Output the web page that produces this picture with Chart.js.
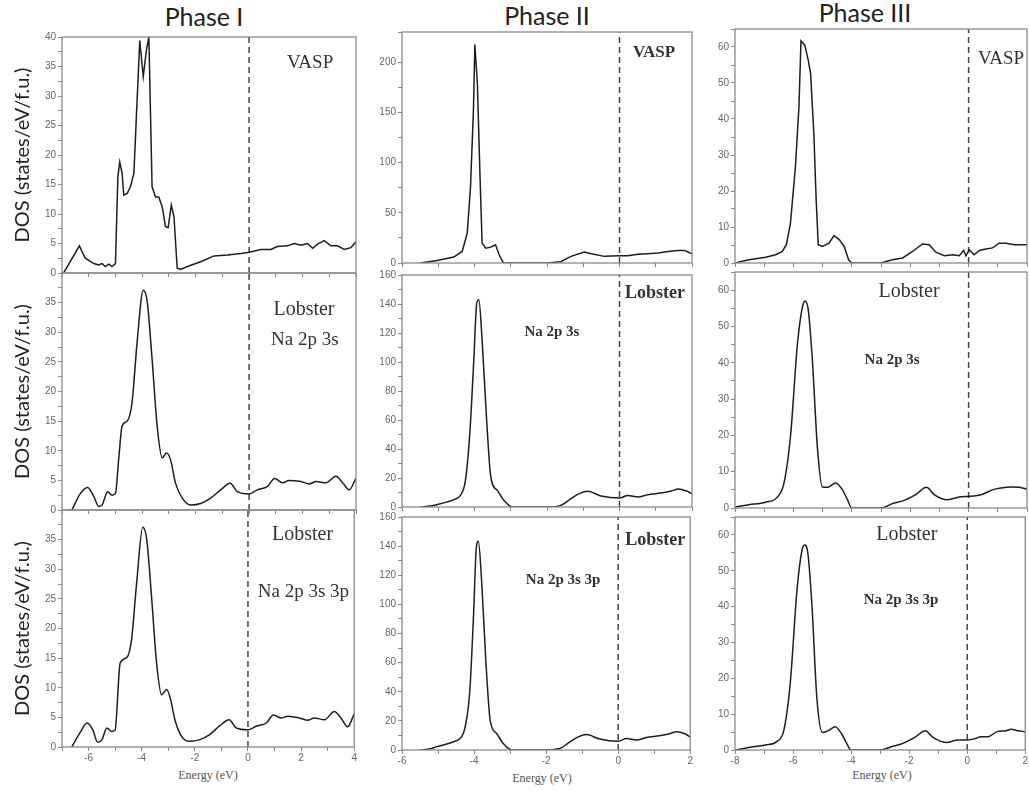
<!DOCTYPE html>
<html>
<head>
<meta charset="utf-8">
<script src="https://cdn.jsdelivr.net/npm/chart.js@4.4.0/dist/chart.umd.min.js"></script>
<style>
body { margin:0; background:#fff; width:1029px; height:792px; position:relative; overflow:hidden; }
canvas { position:absolute; }
.lbl { position:absolute; white-space:nowrap; color:#222; transform:translate(-50%,-50%); }
.title { font-family:Lato, sans-serif; font-size:25px; }
.xlab { font-family:"Liberation Serif", serif; font-size:12px; color:#555; }
</style>
</head>
<body>
<div class="lbl title" style="left:204px;top:16px">Phase I</div>
<div class="lbl title" style="left:547px;top:15px">Phase II</div>
<div class="lbl title" style="left:865px;top:12px">Phase III</div>
<div class="lbl xlab" style="left:208px;top:775px">Energy (eV)</div>
<div class="lbl xlab" style="left:542px;top:778px">Energy (eV)</div>
<div class="lbl xlab" style="left:882px;top:775px">Energy (eV)</div>
<script>
// Phase I
var p1VaspE = [-6.94,-6.35,-6.13,-5.81,-5.63,-5.5,-5.38,-5.25,-5.13,-5.0,-4.91,-4.84,-4.75,-4.69,-4.56,-4.44,-4.31,-4.19,-4.09,-3.96,-3.84,-3.75,-3.63,-3.5,-3.38,-3.25,-3.13,-3.03,-2.91,-2.81,-2.69,-2.56,-2.31,-1.81,-1.31,-0.81,-0.31,0,0.44,0.81,1.06,1.44,1.69,1.94,2.19,2.38,2.56,2.81,3.06,3.31,3.56,3.81,4.0];
var p1VaspDos = [0,4.6,2.5,1.6,1.35,1.6,1.1,1.5,1.1,1.6,16.3,18.8,16.9,13.2,13.5,14.6,16.9,29.3,39.4,33.3,37.8,40,14.6,12.9,12.9,11.2,7.9,7.7,11.5,9.5,0.8,0.6,1.1,1.9,2.9,3.05,3.3,3.5,4.0,4.0,4.5,4.6,5.0,4.7,5.0,4.2,4.9,5.5,4.6,4.6,4.0,4.3,5.3];
var p1LobE = [-6.63,-6.31,-6.04,-5.81,-5.63,-5.5,-5.29,-5.13,-5.0,-4.88,-4.75,-4.56,-4.38,-4.19,-3.96,-3.81,-3.63,-3.44,-3.25,-3.09,-2.94,-2.75,-2.5,-2.19,-1.81,-1.44,-1.06,-0.71,-0.44,0,0.31,0.69,0.96,1.25,1.5,1.94,2.25,2.5,2.88,3.25,3.5,3.75,4.0];
var p1LobDos = [0,2.8,3.8,2.3,0.6,0.85,3.1,2.5,2.8,8.5,14.2,15.0,18.1,28.3,37.1,35.1,25.5,14.2,8.8,9.6,8.5,4.5,2.0,0.85,1.1,2.0,3.4,4.5,3.1,2.7,3.4,4.0,5.3,4.6,5.0,4.8,4.4,4.8,4.6,5.7,4.6,3.4,5.4];
var p1Lob3pE = [-6.63,-6.31,-6.06,-5.84,-5.66,-5.5,-5.31,-5.13,-5.0,-4.81,-4.56,-4.38,-4.19,-3.96,-3.81,-3.63,-3.44,-3.25,-3.06,-2.91,-2.75,-2.5,-2.19,-1.81,-1.44,-1.06,-0.71,-0.44,0,0.31,0.69,0.96,1.25,1.5,1.94,2.25,2.5,2.88,3.25,3.5,3.75,4.0];
var p1Lob3pDos = [0,2.5,4.05,2.9,0.8,1.2,3.2,2.6,2.9,14.2,15.1,18.2,27.7,37.1,35,25.4,14.2,8.8,9.7,8.0,4.6,1.8,0.95,1.25,2.1,3.6,4.6,3.2,2.9,3.5,4.05,5.4,4.9,5.2,4.9,4.5,4.9,4.6,6.0,4.9,3.4,5.6];

// Phase II
var p2VaspE = [-5.49,-5.03,-4.57,-4.34,-4.2,-4.11,-4.03,-3.99,-3.92,-3.85,-3.79,-3.69,-3.55,-3.42,-3.32,-3.2,-1.99,-1.62,-1.34,-0.97,-0.78,-0.42,0,0.23,0.51,0.78,1.06,1.34,1.62,1.8,2.0];
var p2VaspDos = [0,2.6,5.9,11.5,29.7,75.8,151,217.5,178,89,19.8,14.8,15.8,18.1,8.2,0,0,1.3,6.6,10.9,9.2,6.6,7.2,7.2,8.6,9.2,9.9,11.5,12.5,12.5,9.2];
var p2LobE = [-5.49,-5.22,-4.94,-4.57,-4.39,-4.25,-4.13,-4.02,-3.94,-3.88,-3.79,-3.67,-3.55,-3.37,-3.19,-2.95,-1.99,-1.62,-1.34,-1.11,-0.88,-0.51,0,0.23,0.51,0.78,1.15,1.43,1.62,1.85,2.0];
var p2LobDos = [0,0.7,2.3,5.1,8.0,18.4,50.6,101,140,143,115,62,20.7,11.5,4.6,0,0,1.1,5.7,9.2,10.8,7.6,6.2,8.0,6.9,8.5,9.7,11.0,12.4,11.0,9.2];
var p2Lob3pE = [-5.49,-5.2,-5.03,-4.57,-4.35,-4.25,-4.12,-4.01,-3.94,-3.88,-3.79,-3.67,-3.55,-3.37,-3.19,-2.95,-1.99,-1.62,-1.34,-1.11,-0.88,-0.51,0,0.23,0.51,0.78,1.15,1.43,1.62,1.85,2.0];
var p2Lob3pDos = [0,0.8,2.3,5.7,9.0,15.5,40,95,138,143.4,116,60,20,11.2,4.4,0,0,1.0,5.5,9.0,10.6,7.5,6.0,7.9,6.8,8.6,9.8,11.2,12.6,11.2,9.0];

// Phase III
var p3VaspE = [-8,-7.52,-6.95,-6.61,-6.38,-6.24,-6.1,-5.93,-5.81,-5.74,-5.61,-5.49,-5.41,-5.3,-5.22,-5.15,-5.01,-4.78,-4.61,-4.43,-4.26,-4.11,-4.0,-3.0,-2.61,-2.26,-1.92,-1.58,-1.35,-1.12,-0.83,-0.55,-0.32,-0.17,-0.09,0.02,0.19,0.37,0.59,0.82,1.05,1.28,1.57,2.0];
var p3VaspDos = [0,0.9,1.6,2.3,3.2,5.1,11.1,26.8,43.4,61.7,60.5,56.3,52.6,36,17.5,5.1,4.6,5.5,7.6,6.5,4.6,0.9,0,0,0.9,1.4,3.2,5.3,5.1,3.0,2.0,2.3,2.0,3.5,2.0,3.7,2.3,3.5,3.9,4.2,5.5,5.5,5.1,5.1];
var p3LobE = [-8,-7.52,-6.95,-6.55,-6.32,-6.1,-5.86,-5.69,-5.6,-5.49,-5.35,-5.18,-5.01,-4.83,-4.55,-4.32,-4.15,-4.0,-3.0,-2.61,-2.21,-1.81,-1.44,-1.18,-0.72,-0.32,0,0.25,0.48,0.82,1.11,1.45,1.74,2.0];
var p3LobDos = [0.3,0.9,1.6,3.0,6.9,19.7,45.3,55.4,57,54.5,40.7,16.9,5.8,5.7,6.9,5.0,2.3,0,0,1.2,2.1,3.7,5.7,3.7,2.3,3.0,3.2,3.4,3.8,5.0,5.5,5.8,5.7,5.2];
var p3Lob3pE = [-8,-7.52,-6.95,-6.55,-6.32,-6.1,-5.86,-5.69,-5.6,-5.49,-5.35,-5.18,-4.99,-4.78,-4.55,-4.32,-4.15,-4.0,-3.0,-2.61,-2.21,-1.81,-1.44,-1.18,-0.72,-0.32,0,0.25,0.48,0.71,1.05,1.34,1.51,1.74,2.0];
var p3Lob3pDos = [0,0.7,1.4,2.4,5.4,18.3,45,55.8,57.2,54.9,40.5,14.6,4.9,5.4,6.5,4.4,1.85,0,0,0.9,1.85,3.5,5.4,3.5,2.1,2.8,2.8,3.1,3.7,3.7,5.2,5.4,5.8,5.4,5.1];

var yTitle = 'DOS (states/eV/f.u.)';
var serif = '"Liberation Serif", serif';

function pts(xs, ys) {
  return xs.map(function (x, i) { return { x: x, y: ys[i] }; });
}

// frame around the plot area + text notes placed as fractions of it
function framePlugin(notes) {
  return {
    id: 'frame',
    afterDatasetsDraw: function (chart) {
      var a = chart.chartArea, c = chart.ctx;
      c.save();
      c.strokeStyle = '#8a8a8a';
      c.lineWidth = 1.3;
      c.strokeRect(a.left, a.top, a.right - a.left, a.bottom - a.top);
      c.fillStyle = '#333';
      c.textAlign = 'center';
      c.textBaseline = 'middle';
      notes.forEach(function (n) {
        c.font = n.font;
        c.fillText(n.text, a.left + n.fx * (a.right - a.left), a.top + n.fy * (a.bottom - a.top));
      });
      c.restore();
    }
  };
}

function panel(p) {
  var padT = 8, padR = 2, xH = 18;
  var yW = p.yTitle ? p.l : 30;
  var w = p.r - p.l + yW + padR, h = p.b - p.t + padT + xH;
  var cv = document.createElement('canvas');
  cv.width = w; cv.height = h;
  cv.style.left = (p.l - yW) + 'px';
  cv.style.top = (p.t - padT) + 'px';
  document.body.appendChild(cv);

  var tickFont = { family: '"Liberation Sans", sans-serif', size: 10 };
  new Chart(cv, {
    type: 'line',
    data: {
      datasets: [
        { data: pts(p.e, p.dos), borderColor: '#1e1e1e', borderWidth: 1.5, pointRadius: 0,
          tension: 0, cubicInterpolationMode: p.smooth ? 'monotone' : 'default', fill: false },
        { data: [{ x: 0, y: 0 }, { x: 0, y: p.yMax }], borderColor: '#444', borderWidth: 1.5,
          borderDash: [6, 4], pointRadius: 0 }
      ]
    },
    options: {
      responsive: false, animation: false, devicePixelRatio: 1,
      layout: { padding: { top: padT, right: padR, left: 0, bottom: 0 } },
      plugins: { legend: { display: false }, tooltip: { enabled: false } },
      scales: {
        x: {
          type: 'linear', min: p.xMin, max: p.xMax,
          afterFit: function (s) { s.height = xH; },
          grid: { drawOnChartArea: false, tickLength: 4, color: '#888' },
          border: { display: false },
          ticks: { stepSize: 1, autoSkip: false, maxRotation: 0, padding: 1, color: '#666', font: tickFont,
            callback: function (v) { return p.xLabels && v % 2 === 0 ? String(v) : ''; } }
        },
        y: {
          min: 0, max: p.yMax,
          afterFit: function (s) { s.width = yW; },
          grid: { drawOnChartArea: false, tickLength: 4, color: '#888' },
          border: { display: false },
          title: { display: !!p.yTitle, text: yTitle, color: '#222',
            font: { family: 'Lato, sans-serif', size: 20 }, padding: { top: 11, bottom: 0 } },
          ticks: { stepSize: p.yStep / 2, autoSkip: false, padding: 2, color: '#666', font: tickFont,
            callback: function (v) {
              if (v % p.yStep !== 0) return '';
              if (p.hideTop && v >= p.yMax) return '';
              return String(v);
            } }
        }
      }
    },
    plugins: [framePlugin(p.notes)]
  });
}

var bigSerif = '19px ' + serif;
var lobSerif = '20px ' + serif;
var smallBold = 'bold 15px ' + serif;

// column 1: Phase I
panel({ l: 62, r: 356, t: 37, b: 273, xMin: -7, xMax: 4, yMax: 40, yStep: 5, yTitle: true, e: p1VaspE, dos: p1VaspDos,
  notes: [{ text: 'VASP', fx: 0.844, fy: 0.11, font: bigSerif }] });
panel({ l: 62, r: 356, t: 273, b: 510, xMin: -7, xMax: 4, yMax: 40, yStep: 5, yTitle: true, hideTop: true, smooth: true,
  e: p1LobE, dos: p1LobDos,
  notes: [{ text: 'Lobster', fx: 0.823, fy: 0.156, font: lobSerif }, { text: 'Na 2p 3s', fx: 0.826, fy: 0.283, font: bigSerif }] });
panel({ l: 62, r: 356, t: 510, b: 747, xMin: -7, xMax: 4, yMax: 40, yStep: 5, yTitle: true, hideTop: true, smooth: true, xLabels: true,
  e: p1Lob3pE, dos: p1Lob3pDos,
  notes: [{ text: 'Lobster', fx: 0.823, fy: 0.105, font: lobSerif }, { text: 'Na 2p 3s 3p', fx: 0.826, fy: 0.346, font: bigSerif }] });

// column 2: Phase II
panel({ l: 402, r: 692, t: 32, b: 263, xMin: -6, xMax: 2, yMax: 230, yStep: 50, e: p2VaspE, dos: p2VaspDos,
  notes: [{ text: 'VASP', fx: 0.869, fy: 0.091, font: 'bold 17px ' + serif }] });
panel({ l: 402, r: 692, t: 275, b: 507, xMin: -6, xMax: 2, yMax: 160, yStep: 20, smooth: true,
  e: p2LobE, dos: p2LobDos,
  notes: [{ text: 'Lobster', fx: 0.872, fy: 0.078, font: 'bold 18px ' + serif }, { text: 'Na 2p 3s', fx: 0.517, fy: 0.246, font: smallBold }] });
panel({ l: 402, r: 692, t: 517, b: 750, xMin: -6, xMax: 2, yMax: 160, yStep: 20, smooth: true, xLabels: true,
  e: p2Lob3pE, dos: p2Lob3pDos,
  notes: [{ text: 'Lobster', fx: 0.879, fy: 0.099, font: 'bold 18px ' + serif }, { text: 'Na 2p 3s 3p', fx: 0.559, fy: 0.27, font: smallBold }] });

// column 3: Phase III
panel({ l: 735, r: 1027, t: 29, b: 263, xMin: -8, xMax: 2, yMax: 65, yStep: 10, e: p3VaspE, dos: p3VaspDos,
  notes: [{ text: 'VASP', fx: 0.911, fy: 0.128, font: bigSerif }] });
panel({ l: 735, r: 1027, t: 272, b: 508, xMin: -8, xMax: 2, yMax: 65, yStep: 10, smooth: true,
  e: p3LobE, dos: p3LobDos,
  notes: [{ text: 'Lobster', fx: 0.596, fy: 0.085, font: lobSerif }, { text: 'Na 2p 3s', fx: 0.538, fy: 0.373, font: smallBold }] });
panel({ l: 735, r: 1027, t: 517, b: 750, xMin: -8, xMax: 2, yMax: 65, yStep: 10, smooth: true, xLabels: true,
  e: p3Lob3pE, dos: p3Lob3pDos,
  notes: [{ text: 'Lobster', fx: 0.592, fy: 0.077, font: lobSerif }, { text: 'Na 2p 3s 3p', fx: 0.572, fy: 0.356, font: smallBold }] });
</script>
</body>
</html>
